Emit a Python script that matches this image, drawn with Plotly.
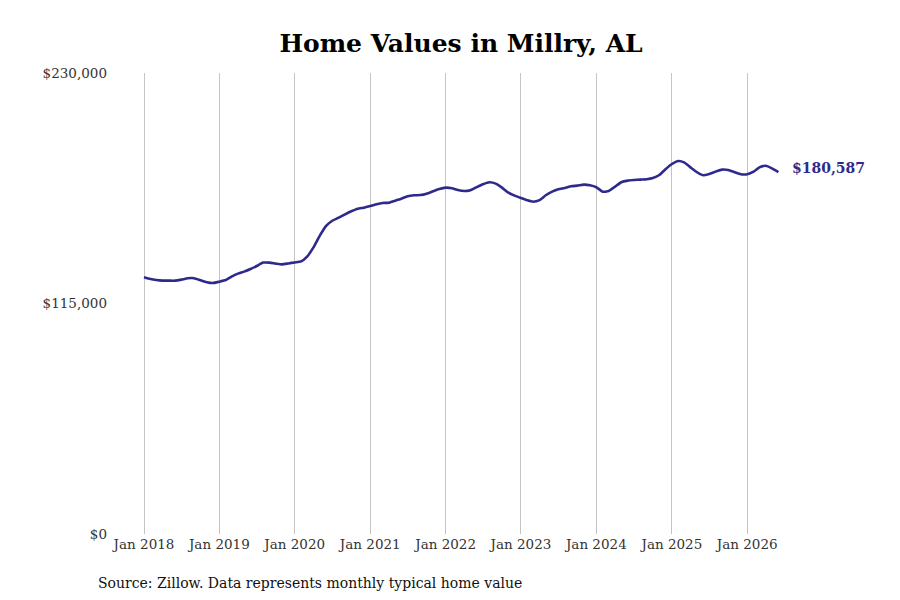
import plotly.graph_objects as go
import pandas as pd

# Monthly typical home value, Jan 2018 - Jun 2026
months = pd.date_range("2018-01-01", "2026-06-01", freq="MS")
values = [
    128100, 127200, 126700, 126400, 126400, 126400, 126900, 127600, 127600, 126600, 125600, 125200,
    125900, 126700, 128400, 129900, 130900, 132200, 133700, 135400, 135400, 134900, 134500, 135000,
    135500, 136000, 138400, 143000, 148700, 153700, 156300, 157800, 159500, 161000, 162300, 162800,
    163600, 164500, 165100, 165300, 166300, 167300, 168500, 169000, 169100, 169800, 171000, 172100,
    172800, 172500, 171600, 171100, 171500, 173100, 174500, 175500, 174800, 172800, 170300, 168800,
    167600, 166500, 165800, 166600, 169000, 170800, 172000, 172600, 173500, 173800, 174300, 174000,
    173000, 170800, 171100, 173300, 175500, 176300, 176600, 176800, 177000, 177600, 179100, 182000,
    184600, 186100, 185400, 182900, 180600, 179000, 179600, 180800, 181800, 181600, 180500, 179500,
    179500, 180800, 182900, 183700, 182400, 180587,
]

y_ticks = [0, 115000, 230000]
y_tick_labels = ["$0", "$115,000", "$230,000"]
x_ticks = pd.date_range("2018-01-01", "2026-01-01", freq="YS")
x_tick_labels = [f"Jan {d.year}" for d in x_ticks]

line_color = "#2e2a8c"
font_family = "DejaVu Serif"

fig = go.Figure()
fig.add_trace(go.Scatter(
    x=months,
    y=values,
    mode="lines",
    line=dict(color=line_color, width=2.6, shape="spline", smoothing=0.5),
    hoverinfo="skip",
    showlegend=False,
))

# Label on the last value
fig.add_annotation(
    x=months[-1], y=values[-1],
    text=f"<b>${values[-1]:,}</b>",
    showarrow=False,
    xanchor="left",
    xshift=12, yshift=4,
    font=dict(family=font_family, size=14, color=line_color),
)

# Source note
fig.add_annotation(
    x=0, y=0, xref="paper", yref="paper",
    text="Source: Zillow. Data represents monthly typical home value",
    showarrow=False,
    xanchor="left", yanchor="top",
    xshift=-16, yshift=-39,
    font=dict(family=font_family, size=14, color="#111111"),
)

fig.update_layout(
    width=900,
    height=600,
    margin=dict(l=104, r=98, t=65, b=74),
    paper_bgcolor="white",
    plot_bgcolor="white",
    font=dict(family=font_family, size=13.5, color="#333333"),
    title=dict(
        text="<b>Home Values in Millry, AL</b>",
        x=0.5, xref="paper", xanchor="center",
        y=0.942, yanchor="middle",
        font=dict(family=font_family, size=25, color="#000000"),
    ),
    xaxis=dict(
        range=["2017-07-30", "2026-11-01"],
        tickvals=x_ticks,
        ticktext=x_tick_labels,
        showgrid=True,
        gridcolor="#c4c4c4",
        gridwidth=1,
        showline=False,
        zeroline=False,
        ticks="",
        tickfont=dict(family=font_family, size=13.5, color="#333333"),
    ),
    yaxis=dict(
        range=[0, 230000],
        tickvals=y_ticks,
        ticktext=y_tick_labels,
        showgrid=False,
        showline=False,
        zeroline=False,
        ticks="",
        ticklabelstandoff=4,
        tickfont=dict(family=font_family, size=13.5, color="#333333"),
    ),
)

fig.write_html("out.html")
